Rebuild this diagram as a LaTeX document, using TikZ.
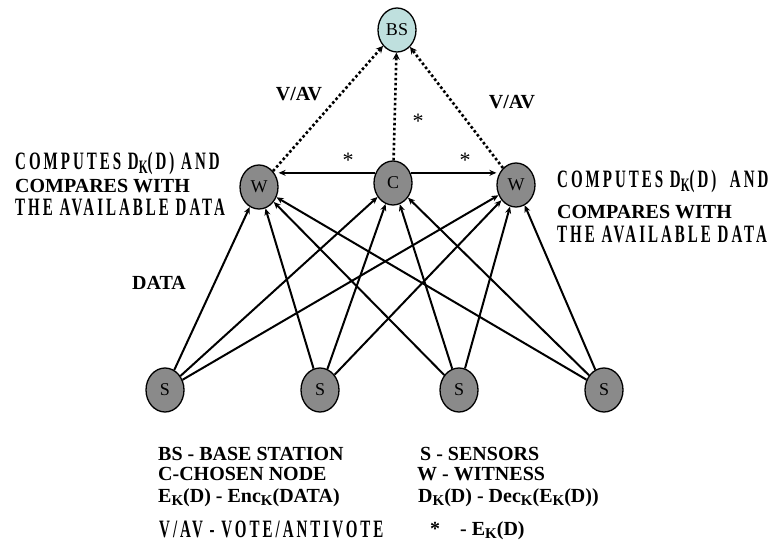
\documentclass[tikz,border=0pt]{standalone}
\usepackage{fontspec}
\setmainfont{Liberation Serif}
\newfontfamily\spacedfont[FakeStretch=0.6,LetterSpace=12]{Liberation Serif}
\usetikzlibrary{shapes.geometric,arrows.meta}
\definecolor{nodegray}{HTML}{8A8A8A}
\definecolor{bsfill}{HTML}{BFE0DE}
\newcommand{\subK}[1][15]{\raisebox{-0.4ex}{\fontsize{#1}{#1}\selectfont K}}
\tikzset{
  sensor/.style={ellipse, draw=black, line width=1.3pt, fill=nodegray,
    minimum width=38pt, minimum height=44pt, inner sep=0pt,
    font=\fontsize{18}{18}\selectfont},
  station/.style={sensor, fill=bsfill},
  link/.style={draw=black, line width=2pt, -{Stealth[length=7pt,width=6pt]}},
  vote/.style={draw=black, line width=2.6pt, dash pattern=on 2.6pt off 2.4pt,
    -{Stealth[length=7pt,width=7pt]}},
  lab/.style={font=\bfseries\fontsize{20}{20}\selectfont, inner sep=0pt},
  star/.style={font=\fontsize{22}{22}\selectfont, inner sep=0pt},
  spaced/.style={anchor=base west, inner sep=0pt, font=\spacedfont\bfseries\fontsize{25}{25}\selectfont},
  plain/.style={anchor=base west, inner sep=0pt, font=\bfseries\fontsize{20}{20}\selectfont},
  key/.style={anchor=base west, inner sep=0pt, font=\bfseries\fontsize{20}{20}\selectfont},
}
\begin{document}
\begin{tikzpicture}[x=1pt,y=-1pt]
\useasboundingbox (0,0) rectangle (770,548);

% base station, witnesses, chosen node
\node[station] (bs) at (397,30) {BS};
\node[sensor] (wl) at (259,187) {W};
\node[sensor] (c) at (393,183) {C};
\node[sensor] (wr) at (516,185) {W};

% sensors
\foreach \n/\x in {s1/165,s2/320,s3/459,s4/604}
  \node[sensor] (\n) at (\x,390) {S};

% data from every sensor to C and both witnesses
\foreach \s in {s1,s2,s3,s4}
  \foreach \t in {wl,c,wr}
    \draw[link] (\s) -- (\t);

\draw[link] (c.150) -- (c.150 -| wl.east);
\draw[link] (c.30) -- (c.30 -| wr.west);

% votes / antivotes
\draw[vote] (wl) -- (bs);
\draw[vote] (c) -- (bs);
\draw[vote] (wr) -- (bs);

\node[lab] (vl) at (299,94) {V/AV};
\node[lab] (vr) at (512,102) {V/AV};
\node[star] (st1) at (418,121) {*};
\node[star] (st2) at (348,160) {*};
\node[star] (st3) at (465,160) {*};
\node[lab] (data) at (159,283) {DATA};

% witness notes
\node[spaced] (l1) at (15,169) {COMPUTES D\subK[19](D) AND};
\node[plain] (l2) at (15,193) {COMPARES WITH};
\node[spaced] (l3) at (15,215) {THE AVAILABLE DATA};
\node[spaced] (r1) at (557,187) {COMPUTES D\subK[19](D)\ \ AND};
\node[plain] (r2) at (557,218) {COMPARES WITH};
\node[spaced] (r3) at (557,242) {THE AVAILABLE DATA};

% legend
\node[key] (k1) at (158,460) {BS - BASE STATION};
\node[key] (k2) at (158,480) {C-CHOSEN NODE};
\node[key] (k3) at (158,502) {E\subK(D) - Enc\subK(DATA)};
\node[spaced] (k4) at (159,537) {V/AV - VOTE/ANTIVOTE};
\node[key] (k5) at (420,460) {S - SENSORS};
\node[key] (k6) at (417,480) {W - WITNESS};
\node[key] (k7) at (418,502) {D\subK(D) - Dec\subK(E\subK(D))};
\node[key] (k8) at (430,535) {*\quad - E\subK(D)};
\end{tikzpicture}
\end{document}
